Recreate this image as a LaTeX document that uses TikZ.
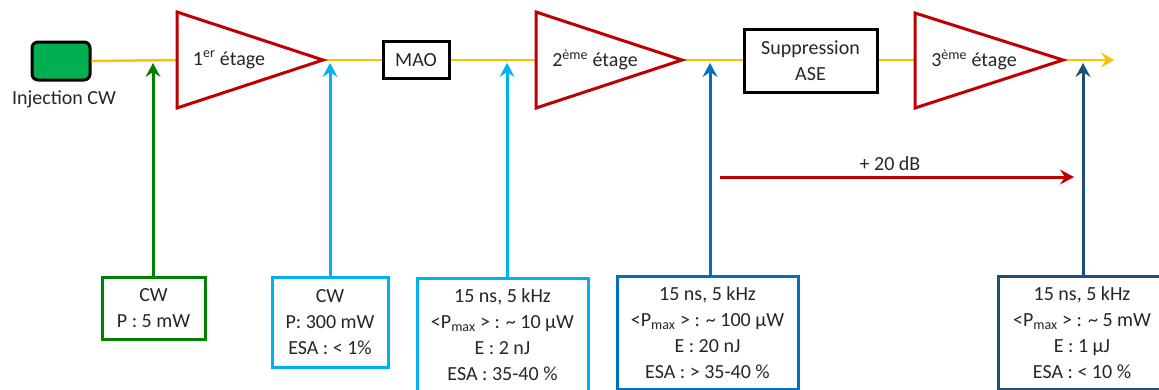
\documentclass[tikz,border=0pt]{standalone}
\usepackage{fontspec}
\setmainfont{Carlito}
\usetikzlibrary{arrows.meta,calc}
\definecolor{fibre}{HTML}{FFC000}
\definecolor{ampred}{HTML}{C00000}
\definecolor{dgreen}{HTML}{008000}
\definecolor{lgreen}{HTML}{00B050}
\definecolor{lblue}{HTML}{00B0F0}
\definecolor{mblue}{HTML}{0070C0}
\definecolor{nblue}{HTML}{1F4E79}
\definecolor{txt}{HTML}{262626}
\begin{document}
\begin{tikzpicture}[x=1pt,y=-1pt,
  every node/.style={font=\fontsize{20}{26}\selectfont, text=txt},
  fib/.style={draw=fibre, line width=2.5pt},
  amp/.style={draw=ampred, line width=3pt, line join=miter},
  blk/.style={draw=black, line width=3pt, fill=white, inner sep=0pt},
  info/.style={line width=3pt, fill=white, align=center, inner sep=0pt, anchor=north},
  up/.style={line width=3pt, -{Stealth[length=14pt,width=15pt,inset=5pt]}},
  lbl/.style={inner sep=0pt}]
\useasboundingbox (0,0) rectangle (1159,389);

% source
\node[blk, draw=black, fill=lgreen, rounded corners=6pt, minimum width=58pt, minimum height=38pt] (src) at (61,61) {};
\node[lbl] (srclbl) at (64,99) {Injection CW};

% amplifiers
\coordinate (a1l) at (177,60); \coordinate (a1r) at (323,60);
\coordinate (a2l) at (536,60); \coordinate (a2r) at (682,60);
\coordinate (a3l) at (915,60); \coordinate (a3r) at (1063,60);

% fibre line
\coordinate (out) at (1114,60);
\draw[fib] (src.east) -- (a1l);
\draw[fib] (a1r) -- (a2l);
\draw[fib] (a2r) -- (a3l);
\draw[fib, -{Stealth[length=13pt,width=15pt,inset=5pt]}] (a3r) -- (out);

\draw[amp, fill=white] (177,12) -- (177,108) -- (a1r) -- cycle;
\draw[amp, fill=white] (536,12) -- (536,108) -- (a2r) -- cycle;
\draw[amp, fill=white] (915,13) -- (915,108) -- (a3r) -- cycle;
\node[lbl] (e1) at (229,60) {1\textsuperscript{er} étage};
\node[lbl] (e2) at (595,60) {2\textsuperscript{ème} étage};
\node[lbl] (e3) at (974,60) {3\textsuperscript{ème} étage};

\node[blk, minimum width=66pt, minimum height=37pt] (mao) at (416,60) {MAO};
\node[blk, minimum width=133pt, minimum height=63pt, align=center] (ase) at (810.5,60.5) {Suppression\\ASE};

% info boxes
\node[info, draw=dgreen, minimum width=103pt, minimum height=62pt] (b1) at (153.5,276) {CW\\P : 5 mW};
\node[info, draw=lblue, minimum width=116pt, minimum height=90pt] (b2) at (330,276) {CW\\P: 300 mW\\ESA : < 1\%};
\node[info, draw=lblue, minimum width=171pt, minimum height=113pt] (b3) at (502.5,277) {15 ns, 5 kHz\\<P\textsubscript{max} > : \textasciitilde\ 10 µW\\E : 2 nJ\\ESA : 35-40 \%};
\node[info, draw=mblue, minimum width=181pt, minimum height=113pt] (b4) at (707.5,275) {15 ns, 5 kHz\\<P\textsubscript{max} > : \textasciitilde\ 100 µW\\E : 20 nJ\\ESA : > 35-40 \%};
\node[info, draw=nblue, minimum width=168pt, minimum height=113pt] (b5) at (1082,275) {15 ns, 5 kHz\\<P\textsubscript{max} > : \textasciitilde\ 5 mW\\E : 1 µJ\\ESA : < 10 \%};

% arrows
\coordinate (t1) at (153,63);
\coordinate (t2) at (330,63);
\coordinate (t3) at (507,63);
\coordinate (t4) at (710,63);
\coordinate (t5) at (1083,63);
\draw[up, dgreen] (b1.north -| t1) -- (t1);
\draw[up, lblue] (b2.north -| t2) -- (t2);
\draw[up, lblue] (b3.north -| t3) -- (t3);
\draw[up, mblue] (b4.north -| t4) -- (t4);
\draw[up, nblue] (b5.north -| t5) -- (t5);

% gain
\coordinate (g1) at (720,177);
\coordinate (g2) at (1074,177);
\draw[ampred, line width=3pt, -{Stealth[length=14pt,width=15pt,inset=5pt]}] (g1) -- (g2);
\node[lbl] (gain) at (890,164) {+ 20 dB};
\end{tikzpicture}
\end{document}
